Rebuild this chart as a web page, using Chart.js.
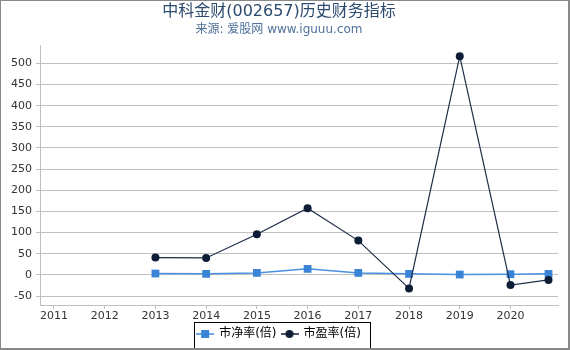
<!DOCTYPE html>
<html>
<head>
<meta charset="utf-8">
<script src="https://cdn.jsdelivr.net/npm/chart.js@4/dist/chart.umd.min.js"></script>
<style>
  html, body { margin: 0; padding: 0; background: #fff; }
  #wrap { width: 570px; height: 350px; position: relative; }
</style>
</head>
<body>
<div id="wrap"><canvas id="c" width="570" height="350"></canvas></div>
<script>
// ---- data ----
const titleText = '中科金财(002657)历史财务指标';
const subtitleText = '来源: 爱股网 www.iguuu.com';
const periods = [2013, 2014, 2015, 2016, 2017, 2018, 2019, 2020, 2020.75];
const pbValues = [3.2, 2.4, 4.7, 14.2, 4.7, 2.4, 0.8, 1.6, 2.4];
const peValues = [41, 40, 96, 157.5, 81, -32, 517, -24, -12];
const xTickYears = [2011, 2012, 2013, 2014, 2015, 2016, 2017, 2018, 2019, 2020];
const seriesNames = ['市净率(倍)', '市盈率(倍)'];

const FONT = "'DejaVu Sans', 'Noto Sans CJK SC', sans-serif";
const BLUE = '#3a84d8';
const BLUE_LINE = '#4a90e2';
const DARK = '#0e1d36';

function legendIcon(lineColor, fillColor, shape) {
  const cv = document.createElement('canvas');
  cv.width = 18; cv.height = 10;
  const g = cv.getContext('2d');
  g.strokeStyle = lineColor; g.lineWidth = 2;
  g.beginPath(); g.moveTo(0, 5); g.lineTo(18, 5); g.stroke();
  g.fillStyle = fillColor;
  if (shape === 'rect') { g.fillRect(5, 1, 8, 8); }
  else { g.beginPath(); g.arc(9, 5, 4, 0, Math.PI * 2); g.fill(); }
  return cv;
}
const icons = [legendIcon('#6fa8ea', BLUE, 'rect'), legendIcon('#4a5568', DARK, 'circle')];

const pbData = periods.map((p, i) => ({ x: p, y: pbValues[i] }));
const peData = periods.map((p, i) => ({ x: p, y: peValues[i] }));

const framePlugin = {
  id: 'frame',
  beforeDraw(chart) {
    const ctx = chart.ctx;
    ctx.save(); ctx.fillStyle = '#fff'; ctx.fillRect(0, 0, chart.width, chart.height); ctx.restore();
  },
  afterDraw(chart) {
    const ctx = chart.ctx;
    ctx.save();
    const lg = chart.legend;
    if (lg && lg.legendHitBoxes && lg.legendHitBoxes.length) {
      const hb = lg.legendHitBoxes;
      const l = Math.min(...hb.map(h => h.left)) - 3;
      const r = Math.max(...hb.map(h => h.left + h.width)) + 9;
      const t = Math.min(...hb.map(h => h.top)) - 6;
      const b = Math.max(...hb.map(h => h.top + h.height)) + 8;
      ctx.strokeStyle = '#000'; ctx.lineWidth = 1;
      ctx.strokeRect(Math.round(l) + 0.5, Math.round(t) + 0.5, Math.round(r - l), Math.round(b - t));
    }
    ctx.fillStyle = '#888';
    ctx.fillRect(0, 0, 570, 1);
    ctx.fillRect(0, 0, 1, 350);
    ctx.fillRect(568, 0, 2, 350);
    ctx.fillRect(0, 348, 570, 2);
    ctx.restore();
  }
};

new Chart(document.getElementById('c'), {
  type: 'line',
  data: {
    datasets: [
      {
        label: seriesNames[0], data: pbData, order: 1,
        borderColor: BLUE_LINE, backgroundColor: BLUE, borderWidth: 1.5,
        pointStyle: 'rect', pointRadius: 5.5, pointBackgroundColor: BLUE, pointBorderWidth: 0,
        tension: 0
      },
      {
        label: seriesNames[1], data: peData, order: 0,
        borderColor: '#1c2c46', backgroundColor: DARK, borderWidth: 1.2,
        pointStyle: 'circle', pointRadius: 4, pointBackgroundColor: DARK, pointBorderWidth: 0,
        tension: 0
      }
    ]
  },
  options: {
    responsive: false,
    animation: false,
    devicePixelRatio: 1,
    layout: { padding: { left: 0, right: 12, top: 0, bottom: 0 } },
    plugins: {
      title: {
        display: true, text: titleText, color: '#2c4a6e',
        font: { family: FONT, size: 16, weight: 'normal' }, padding: { top: 2, bottom: 0 }
      },
      subtitle: {
        display: true, text: subtitleText, color: '#4f719a',
        font: { family: FONT, size: 12, weight: 'normal' }, padding: { top: 1, bottom: 8.4 }
      },
      legend: {
        display: true, position: 'bottom',
        labels: {
          font: { family: FONT, size: 12 }, color: '#222',
          usePointStyle: true, pointStyleWidth: 16, padding: 5,
          generateLabels: () => seriesNames.map((n, i) => ({
            text: n, pointStyle: icons[i], datasetIndex: i, hidden: false,
            fillStyle: 'transparent', strokeStyle: 'transparent', lineWidth: 0
          }))
        }
      },
      tooltip: { enabled: false }
    },
    scales: {
      x: {
        type: 'linear', min: 2010.724, max: 2020.937,
        afterBuildTicks: (s) => { s.ticks = xTickYears.map(v => ({ value: v })); },
        afterFit: (s) => { s.height = 18; },
        ticks: {
          font: { family: FONT, size: 11 }, color: '#333', padding: 1,
          maxRotation: 0, autoSkip: false,
          callback: (v) => String(v)
        },
        grid: { drawOnChartArea: false, drawTicks: true, tickLength: 4, color: '#c0c0c0' },
        border: { display: true, color: '#c0c0c0' }
      },
      y: {
        type: 'linear', min: -71.2, max: 543.4,
        afterFit: (s) => { s.width = 40; },
        ticks: {
          stepSize: 50, includeBounds: false,
          font: { family: FONT, size: 11 }, color: '#333', padding: 4
        },
        grid: { color: '#c0c0c0', tickLength: 4, drawTicks: true },
        border: { display: true, color: '#c0c0c0' }
      }
    }
  },
  plugins: [framePlugin]
});
</script>
</body>
</html>
